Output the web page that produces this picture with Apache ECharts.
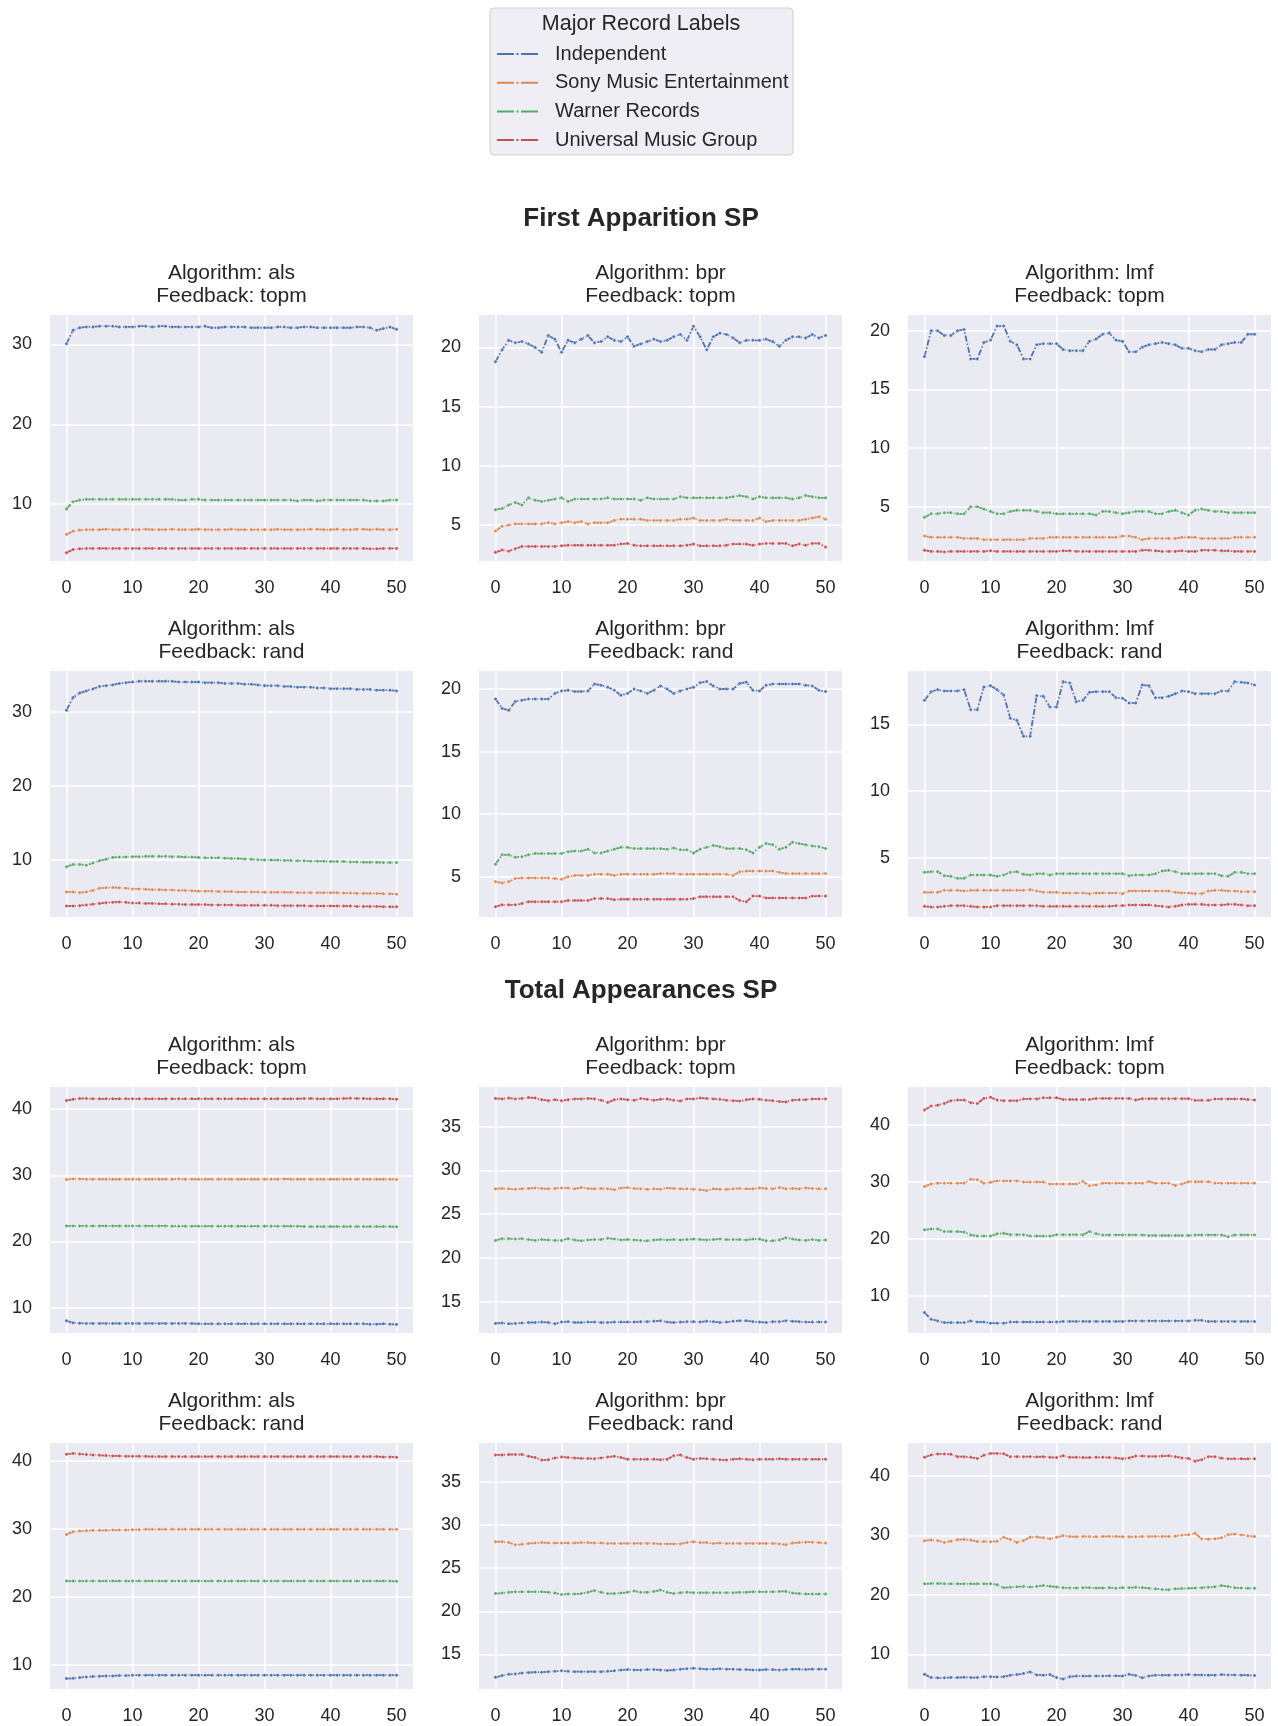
<!DOCTYPE html>
<html>
<head>
<meta charset="utf-8">
<title>Major Record Labels</title>
<script src="https://cdn.jsdelivr.net/npm/echarts@6/dist/echarts.min.js"></script>
<style>
  html, body { margin: 0; padding: 0; background: #fff; }
  #chart { width: 1278px; height: 1726px; }
</style>
</head>
<body>
<div id="chart"></div>
<script>
const labels = ['Independent', 'Sony Music Entertainment', 'Warner Records', 'Universal Music Group'];
const colors = ['#4C72B0', '#DD8452', '#55A868', '#C44E52'];
const sections = ['First Apparition SP', 'Total Appearances SP'];
const algorithms = ['als', 'bpr', 'lmf'];
const feedbacks = ['topm', 'rand'];
const steps = [...new Array(51)].map((c, i) => i);
const xTicks = [0, 10, 20, 30, 40, 50];

// y ticks per panel (row by row)
const yTicks = [
  [10, 20, 30], [5, 10, 15, 20], [5, 10, 15, 20],
  [10, 20, 30], [5, 10, 15, 20], [5, 10, 15],
  [10, 20, 30, 40], [15, 20, 25, 30, 35], [10, 20, 30, 40],
  [10, 20, 30, 40], [15, 20, 25, 30, 35], [10, 20, 30, 40]
];
const yRanges = [
  [2.87, 33.7], [1.97, 22.74], [0.38, 21.34],
  [2.32, 35.48], [1.78, 21.44], [0.55, 19.0],
  [6.16, 43.34], [11.4, 39.56], [3.47, 46.7],
  [6.47, 42.65], [11.0, 39.48], [4.18, 45.5]
];

// ---- First Apparition SP ----
const faAlsTopmInd = [30.1, 31.8, 32.1, 32.2, 32.2, 32.3, 32.3, 32.3, 32.2, 32.2,
  32.2, 32.3, 32.3, 32.2, 32.3, 32.3, 32.2, 32.2, 32.2, 32.2,
  32.2, 32.3, 32.1, 32.1, 32.2, 32.2, 32.2, 32.2, 32.1, 32.1,
  32.1, 32.1, 32.2, 32.2, 32.1, 32.1, 32.2, 32.2, 32.1, 32.1,
  32.1, 32.1, 32.1, 32.1, 32.2, 32.2, 32.1, 31.8, 32.0, 32.2,
  31.9];
const faAlsTopmSony = [6.2, 6.6, 6.75, 6.8, 6.8, 6.8, 6.85, 6.8, 6.8, 6.85,
  6.8, 6.8, 6.85, 6.8, 6.8, 6.8, 6.85, 6.8, 6.8, 6.8,
  6.85, 6.8, 6.8, 6.8, 6.8, 6.85, 6.8, 6.8, 6.8, 6.8,
  6.8, 6.8, 6.85, 6.8, 6.8, 6.8, 6.8, 6.85, 6.85, 6.8,
  6.8, 6.85, 6.8, 6.8, 6.85, 6.85, 6.8, 6.85, 6.8, 6.8,
  6.85];
const faAlsTopmWar = [9.4, 10.3, 10.5, 10.6, 10.6, 10.6, 10.6, 10.6, 10.6, 10.6,
  10.6, 10.6, 10.6, 10.6, 10.6, 10.6, 10.6, 10.5, 10.5, 10.6,
  10.6, 10.5, 10.5, 10.5, 10.5, 10.5, 10.5, 10.5, 10.5, 10.5,
  10.5, 10.5, 10.5, 10.5, 10.5, 10.4, 10.5, 10.5, 10.4, 10.5,
  10.5, 10.5, 10.5, 10.5, 10.5, 10.5, 10.4, 10.4, 10.4, 10.5,
  10.5];
const faAlsTopmUni = [3.9, 4.3, 4.4, 4.45, 4.45, 4.45, 4.45, 4.45, 4.45, 4.45,
  4.45, 4.45, 4.45, 4.45, 4.45, 4.45, 4.45, 4.45, 4.45, 4.45,
  4.45, 4.45, 4.45, 4.45, 4.45, 4.45, 4.45, 4.45, 4.45, 4.45,
  4.45, 4.45, 4.45, 4.45, 4.45, 4.45, 4.45, 4.45, 4.45, 4.45,
  4.45, 4.45, 4.45, 4.45, 4.45, 4.45, 4.4, 4.4, 4.45, 4.45,
  4.45];

const faBprTopmInd = [18.8, 19.8, 20.6, 20.4, 20.5, 20.3, 20.0, 19.6, 21.0, 20.7,
  19.6, 20.6, 20.4, 20.7, 21.0, 20.4, 20.5, 20.9, 20.6, 20.5,
  20.9, 20.1, 20.3, 20.5, 20.7, 20.5, 20.6, 20.9, 21.1, 20.6,
  21.8, 20.9, 19.8, 20.9, 21.2, 21.1, 20.8, 20.4, 20.6, 20.6,
  20.6, 20.7, 20.5, 20.1, 20.6, 20.9, 20.9, 20.8, 21.1, 20.8,
  21.0];
const faBprTopmSony = [4.5, 4.9, 5.0, 5.1, 5.1, 5.1, 5.1, 5.1, 5.2, 5.1,
  5.2, 5.3, 5.2, 5.3, 5.1, 5.2, 5.2, 5.2, 5.4, 5.5,
  5.5, 5.5, 5.5, 5.4, 5.4, 5.4, 5.4, 5.4, 5.5, 5.5,
  5.6, 5.4, 5.4, 5.4, 5.4, 5.5, 5.4, 5.4, 5.4, 5.4,
  5.6, 5.3, 5.4, 5.4, 5.4, 5.4, 5.4, 5.5, 5.6, 5.7,
  5.5];
const faBprTopmWar = [6.3, 6.4, 6.7, 6.9, 6.7, 7.3, 7.1, 7.0, 7.1, 7.2,
  7.3, 7.0, 7.2, 7.2, 7.2, 7.2, 7.2, 7.3, 7.2, 7.2,
  7.2, 7.2, 7.1, 7.3, 7.2, 7.2, 7.2, 7.2, 7.4, 7.3,
  7.3, 7.3, 7.3, 7.3, 7.3, 7.3, 7.4, 7.5, 7.4, 7.2,
  7.4, 7.3, 7.3, 7.3, 7.3, 7.2, 7.3, 7.5, 7.4, 7.3,
  7.3];
const faBprTopmUni = [2.7, 2.9, 2.8, 3.0, 3.2, 3.2, 3.2, 3.2, 3.2, 3.2,
  3.25, 3.3, 3.3, 3.3, 3.3, 3.3, 3.3, 3.3, 3.3, 3.4,
  3.45, 3.3, 3.25, 3.25, 3.25, 3.25, 3.25, 3.25, 3.25, 3.3,
  3.4, 3.25, 3.25, 3.25, 3.25, 3.3, 3.4, 3.4, 3.4, 3.3,
  3.4, 3.45, 3.45, 3.45, 3.45, 3.25, 3.4, 3.3, 3.45, 3.45,
  3.15];

const faLmfTopmInd = [17.8, 20.0, 20.0, 19.6, 19.6, 20.0, 20.1, 17.6, 17.6, 19.0,
  19.2, 20.4, 20.4, 19.1, 18.8, 17.6, 17.6, 18.8, 18.9, 18.9,
  18.9, 18.4, 18.3, 18.3, 18.3, 19.1, 19.3, 19.7, 19.8, 19.2,
  19.1, 18.2, 18.2, 18.6, 18.8, 18.9, 19.0, 18.9, 18.8, 18.5,
  18.5, 18.3, 18.2, 18.4, 18.4, 18.8, 18.9, 19.0, 19.0, 19.7,
  19.7];
const faLmfTopmSony = [2.5, 2.4, 2.4, 2.4, 2.4, 2.4, 2.3, 2.3, 2.3, 2.2,
  2.2, 2.2, 2.2, 2.2, 2.2, 2.2, 2.3, 2.3, 2.3, 2.4,
  2.4, 2.4, 2.4, 2.4, 2.4, 2.4, 2.4, 2.4, 2.4, 2.4,
  2.5, 2.5, 2.4, 2.2, 2.3, 2.3, 2.3, 2.3, 2.3, 2.4,
  2.4, 2.4, 2.3, 2.3, 2.3, 2.3, 2.3, 2.4, 2.4, 2.4,
  2.4];
const faLmfTopmWar = [4.1, 4.4, 4.4, 4.5, 4.5, 4.4, 4.4, 5.0, 5.0, 4.8,
  4.6, 4.4, 4.4, 4.6, 4.7, 4.7, 4.7, 4.6, 4.5, 4.5,
  4.4, 4.4, 4.4, 4.4, 4.4, 4.4, 4.3, 4.6, 4.6, 4.5,
  4.4, 4.5, 4.6, 4.6, 4.6, 4.4, 4.4, 4.6, 4.7, 4.5,
  4.3, 4.7, 4.8, 4.7, 4.6, 4.6, 4.5, 4.5, 4.5, 4.5,
  4.5];
const faLmfTopmUni = [1.3, 1.2, 1.2, 1.15, 1.2, 1.2, 1.2, 1.2, 1.2, 1.2,
  1.25, 1.2, 1.2, 1.2, 1.2, 1.2, 1.2, 1.2, 1.2, 1.2,
  1.2, 1.25, 1.25, 1.2, 1.2, 1.2, 1.2, 1.2, 1.2, 1.2,
  1.2, 1.2, 1.2, 1.3, 1.3, 1.25, 1.2, 1.2, 1.2, 1.25,
  1.2, 1.2, 1.3, 1.3, 1.3, 1.25, 1.25, 1.2, 1.2, 1.2,
  1.2];

const faAlsRandInd = [30.2, 31.9, 32.5, 32.8, 33.05, 33.4, 33.5, 33.6, 33.8, 33.9,
  34.0, 34.1, 34.1, 34.1, 34.1, 34.1, 34.1, 34.0, 34.0, 34.0,
  34.0, 33.9, 33.9, 33.9, 33.8, 33.8, 33.8, 33.7, 33.7, 33.6,
  33.5, 33.5, 33.5, 33.4, 33.4, 33.3, 33.3, 33.3, 33.2, 33.2,
  33.1, 33.1, 33.1, 33.1, 33.0, 33.0, 33.0, 32.9, 32.9, 32.9,
  32.8];
const faAlsRandSony = [5.7, 5.7, 5.6, 5.7, 5.9, 6.2, 6.25, 6.3, 6.25, 6.2,
  6.1, 6.1, 6.05, 6.0, 6.0, 5.95, 5.95, 5.9, 5.9, 5.85,
  5.8, 5.8, 5.8, 5.75, 5.75, 5.75, 5.7, 5.7, 5.7, 5.7,
  5.65, 5.65, 5.65, 5.65, 5.65, 5.6, 5.6, 5.6, 5.6, 5.6,
  5.6, 5.6, 5.55, 5.55, 5.5, 5.5, 5.5, 5.5, 5.45, 5.45,
  5.4];
const faAlsRandWar = [9.1, 9.4, 9.4, 9.3, 9.6, 9.9, 10.1, 10.35, 10.4, 10.4,
  10.45, 10.45, 10.5, 10.5, 10.5, 10.5, 10.45, 10.45, 10.4, 10.4,
  10.35, 10.3, 10.3, 10.3, 10.25, 10.2, 10.2, 10.15, 10.1, 10.05,
  10.0, 10.0, 10.0, 9.95, 9.95, 9.9, 9.9, 9.85, 9.85, 9.85,
  9.8, 9.8, 9.8, 9.75, 9.75, 9.7, 9.7, 9.7, 9.65, 9.65,
  9.65];
const faAlsRandUni = [3.8, 3.8, 3.85, 3.95, 4.05, 4.15, 4.25, 4.3, 4.35, 4.3,
  4.2, 4.2, 4.15, 4.15, 4.1, 4.1, 4.05, 4.05, 4.0, 4.0,
  4.0, 4.0, 3.95, 3.95, 3.95, 3.95, 3.9, 3.9, 3.9, 3.9,
  3.9, 3.9, 3.85, 3.85, 3.85, 3.85, 3.85, 3.8, 3.8, 3.8,
  3.8, 3.8, 3.8, 3.8, 3.75, 3.75, 3.75, 3.75, 3.7, 3.7,
  3.7];

const faBprRandInd = [19.2, 18.45, 18.3, 19.0, 19.1, 19.2, 19.2, 19.2, 19.2, 19.65,
  19.85, 19.9, 19.8, 19.8, 19.85, 20.4, 20.3, 20.15, 19.9, 19.5,
  19.65, 20.0, 19.85, 19.65, 19.9, 20.25, 20.0, 19.65, 19.85, 20.0,
  20.15, 20.5, 20.6, 20.25, 20.0, 20.0, 20.0, 20.45, 20.55, 19.9,
  19.85, 20.3, 20.4, 20.4, 20.4, 20.4, 20.4, 20.3, 20.25, 19.9,
  19.8];
const faBprRandSony = [4.6, 4.5, 4.6, 4.85, 4.9, 4.9, 4.9, 4.9, 4.9, 4.85,
  4.8, 5.0, 5.1, 5.1, 5.1, 5.2, 5.2, 5.2, 5.1, 5.2,
  5.2, 5.2, 5.2, 5.2, 5.2, 5.25, 5.25, 5.25, 5.2, 5.2,
  5.2, 5.2, 5.2, 5.2, 5.2, 5.2, 5.1, 5.4, 5.45, 5.45,
  5.45, 5.45, 5.45, 5.35, 5.25, 5.25, 5.25, 5.25, 5.25, 5.25,
  5.25];
const faBprRandWar = [6.0, 6.75, 6.75, 6.55, 6.6, 6.75, 6.85, 6.85, 6.85, 6.85,
  6.85, 7.0, 7.05, 7.05, 7.2, 6.9, 6.9, 7.05, 7.2, 7.35,
  7.35, 7.25, 7.25, 7.25, 7.25, 7.25, 7.2, 7.3, 7.15, 7.15,
  6.9, 7.2, 7.35, 7.5, 7.4, 7.25, 7.25, 7.25, 7.15, 6.9,
  7.35, 7.65, 7.55, 7.2, 7.35, 7.75, 7.65, 7.55, 7.45, 7.4,
  7.25];
const faBprRandUni = [2.6, 2.75, 2.75, 2.75, 2.85, 3.0, 3.0, 3.0, 3.0, 3.0,
  3.0, 3.1, 3.1, 3.1, 3.1, 3.25, 3.25, 3.25, 3.15, 3.2,
  3.2, 3.2, 3.2, 3.2, 3.2, 3.2, 3.2, 3.2, 3.2, 3.2,
  3.25, 3.4, 3.4, 3.4, 3.4, 3.4, 3.4, 3.1, 3.0, 3.45,
  3.45, 3.3, 3.3, 3.3, 3.3, 3.3, 3.3, 3.3, 3.45, 3.45,
  3.45];

const faLmfRandInd = [16.8, 17.45, 17.6, 17.5, 17.5, 17.5, 17.6, 16.1, 16.1, 17.8,
  17.9, 17.6, 17.2, 15.45, 15.3, 14.1, 14.1, 17.15, 17.1, 16.3,
  16.3, 18.2, 18.1, 16.7, 16.8, 17.4, 17.45, 17.45, 17.45, 17.0,
  16.95, 16.6, 16.6, 17.95, 17.9, 17.0, 17.0, 17.1, 17.3, 17.5,
  17.45, 17.3, 17.3, 17.3, 17.3, 17.5, 17.5, 18.2, 18.15, 18.1,
  17.95];
const faLmfRandSony = [2.4, 2.4, 2.4, 2.55, 2.55, 2.55, 2.5, 2.55, 2.55, 2.55,
  2.55, 2.55, 2.55, 2.55, 2.55, 2.55, 2.6, 2.5, 2.4, 2.4,
  2.4, 2.35, 2.35, 2.35, 2.35, 2.3, 2.35, 2.35, 2.35, 2.35,
  2.3, 2.5, 2.5, 2.5, 2.5, 2.5, 2.5, 2.5, 2.4, 2.35,
  2.35, 2.3, 2.3, 2.5, 2.55, 2.55, 2.5, 2.5, 2.45, 2.45,
  2.45];
const faLmfRandWar = [3.9, 3.95, 3.95, 3.65, 3.6, 3.45, 3.45, 3.7, 3.7, 3.7,
  3.7, 3.6, 3.7, 3.9, 3.95, 3.75, 3.7, 3.8, 3.8, 3.7,
  3.8, 3.8, 3.8, 3.8, 3.8, 3.8, 3.8, 3.8, 3.8, 3.8,
  3.8, 3.65, 3.7, 3.7, 3.7, 3.8, 4.0, 4.05, 3.95, 3.8,
  3.8, 3.8, 3.8, 3.8, 3.8, 3.65, 3.6, 3.9, 3.9, 3.8,
  3.8];
const faLmfRandUni = [1.35, 1.3, 1.3, 1.35, 1.4, 1.4, 1.4, 1.35, 1.3, 1.3,
  1.3, 1.4, 1.4, 1.4, 1.4, 1.4, 1.4, 1.4, 1.35, 1.35,
  1.35, 1.35, 1.35, 1.35, 1.35, 1.35, 1.35, 1.35, 1.35, 1.4,
  1.4, 1.45, 1.45, 1.45, 1.45, 1.4, 1.35, 1.3, 1.35, 1.45,
  1.5, 1.5, 1.5, 1.45, 1.45, 1.45, 1.5, 1.5, 1.45, 1.4,
  1.4];

// ---- Total Appearances SP ----
const taAlsTopmInd = [8.0, 7.7, 7.65, 7.6, 7.6, 7.6, 7.6, 7.6, 7.6, 7.6,
  7.6, 7.6, 7.6, 7.6, 7.6, 7.6, 7.6, 7.6, 7.6, 7.6,
  7.55, 7.55, 7.55, 7.55, 7.55, 7.55, 7.55, 7.55, 7.55, 7.55,
  7.55, 7.55, 7.55, 7.55, 7.55, 7.55, 7.55, 7.55, 7.55, 7.55,
  7.55, 7.55, 7.55, 7.55, 7.55, 7.55, 7.5, 7.5, 7.55, 7.5,
  7.45];
const taAlsTopmSony = [29.35, 29.45, 29.45, 29.4, 29.4, 29.4, 29.4, 29.4, 29.4, 29.4,
  29.4, 29.4, 29.4, 29.4, 29.4, 29.4, 29.4, 29.45, 29.4, 29.4,
  29.4, 29.4, 29.4, 29.4, 29.4, 29.4, 29.4, 29.4, 29.4, 29.4,
  29.4, 29.4, 29.4, 29.45, 29.4, 29.4, 29.4, 29.4, 29.4, 29.4,
  29.4, 29.4, 29.4, 29.4, 29.4, 29.4, 29.4, 29.4, 29.4, 29.4,
  29.35];
const taAlsTopmWar = [22.35, 22.35, 22.35, 22.35, 22.35, 22.35, 22.35, 22.35, 22.35, 22.35,
  22.35, 22.35, 22.35, 22.35, 22.35, 22.35, 22.3, 22.3, 22.3, 22.3,
  22.3, 22.3, 22.3, 22.3, 22.3, 22.3, 22.3, 22.3, 22.3, 22.3,
  22.3, 22.3, 22.3, 22.3, 22.3, 22.3, 22.25, 22.25, 22.25, 22.25,
  22.25, 22.25, 22.25, 22.25, 22.25, 22.25, 22.25, 22.25, 22.25, 22.25,
  22.2];
const taAlsTopmUni = [41.3, 41.5, 41.6, 41.6, 41.55, 41.55, 41.55, 41.55, 41.55, 41.55,
  41.55, 41.55, 41.55, 41.55, 41.55, 41.55, 41.55, 41.55, 41.55, 41.55,
  41.55, 41.55, 41.55, 41.55, 41.55, 41.55, 41.55, 41.55, 41.55, 41.55,
  41.55, 41.55, 41.55, 41.55, 41.55, 41.55, 41.6, 41.6, 41.55, 41.55,
  41.55, 41.55, 41.6, 41.65, 41.6, 41.6, 41.55, 41.55, 41.55, 41.55,
  41.5];

const taBprTopmInd = [12.5, 12.55, 12.45, 12.5, 12.55, 12.6, 12.6, 12.65, 12.6, 12.45,
  12.65, 12.7, 12.6, 12.6, 12.65, 12.65, 12.6, 12.6, 12.65, 12.65,
  12.65, 12.65, 12.7, 12.7, 12.75, 12.8, 12.65, 12.6, 12.65, 12.7,
  12.7, 12.65, 12.75, 12.7, 12.6, 12.65, 12.75, 12.8, 12.8, 12.7,
  12.65, 12.6, 12.7, 12.7, 12.8, 12.75, 12.7, 12.65, 12.65, 12.65,
  12.65];
const taBprTopmSony = [27.9, 27.95, 27.9, 27.85, 27.9, 27.95, 28.0, 27.95, 27.9, 27.95,
  28.0, 28.0, 27.9, 28.05, 27.95, 27.9, 27.95, 27.9, 27.8, 28.0,
  28.05, 27.95, 27.9, 27.85, 27.9, 27.85, 28.0, 27.95, 27.9, 27.9,
  27.85, 27.8, 27.7, 27.9, 27.85, 27.85, 27.9, 27.95, 27.9, 27.9,
  28.0, 27.95, 27.9, 28.05, 27.9, 27.95, 27.9, 28.0, 27.95, 27.9,
  27.9];
const taBprTopmWar = [22.0, 22.2, 22.2, 22.15, 22.2, 22.1, 22.0, 22.1, 22.05, 22.0,
  22.0, 22.2, 22.05, 21.95, 22.05, 22.1, 22.1, 22.25, 22.15, 22.05,
  22.1, 22.05, 22.0, 21.95, 22.05, 22.1, 22.05, 22.1, 22.05, 22.1,
  22.15, 22.1, 22.05, 22.1, 22.15, 22.1, 22.1, 22.1, 22.05, 22.15,
  22.15, 21.95, 21.95, 22.05, 22.3, 22.15, 22.05, 22.0, 22.1, 22.0,
  22.05];
const taBprTopmUni = [38.25, 38.2, 38.3, 38.2, 38.25, 38.35, 38.3, 38.1, 38.0, 38.1,
  38.0, 38.1, 38.2, 38.2, 38.25, 38.2, 38.05, 37.8, 38.1, 38.2,
  38.1, 38.05, 38.25, 38.15, 38.05, 38.15, 38.2, 38.05, 37.95, 38.2,
  38.2, 38.3, 38.25, 38.2, 38.15, 38.05, 38.0, 37.95, 38.1, 38.2,
  38.15, 38.05, 38.0, 37.9, 37.85, 38.05, 38.1, 38.1, 38.2, 38.2,
  38.2];

const taLmfTopmInd = [7.06, 5.9, 5.6, 5.3, 5.3, 5.3, 5.3, 5.6, 5.4, 5.4,
  5.2, 5.2, 5.2, 5.4, 5.4, 5.4, 5.4, 5.4, 5.4, 5.4,
  5.4, 5.5, 5.5, 5.5, 5.5, 5.5, 5.5, 5.5, 5.5, 5.5,
  5.5, 5.6, 5.6, 5.6, 5.6, 5.6, 5.6, 5.6, 5.6, 5.6,
  5.6, 5.7, 5.7, 5.5, 5.5, 5.5, 5.5, 5.5, 5.5, 5.5,
  5.5];
const taLmfTopmSony = [29.2, 29.65, 29.8, 29.8, 29.8, 29.8, 29.8, 30.5, 30.4, 29.8,
  29.95, 30.2, 30.2, 30.2, 30.2, 30.0, 30.0, 30.0, 30.0, 29.65,
  29.65, 29.65, 29.65, 29.65, 30.1, 29.35, 29.5, 29.8, 29.8, 29.8,
  29.8, 29.8, 29.8, 29.8, 30.1, 29.8, 29.8, 29.8, 29.4, 29.65,
  30.05, 30.05, 30.05, 30.05, 29.8, 29.8, 29.8, 29.8, 29.8, 29.8,
  29.8];
const taLmfTopmWar = [21.6, 21.75, 21.75, 21.3, 21.3, 21.3, 21.2, 20.7, 20.5, 20.5,
  20.5, 20.9, 21.0, 20.75, 20.75, 20.75, 20.5, 20.5, 20.5, 20.5,
  20.75, 20.75, 20.75, 20.75, 20.75, 21.3, 20.9, 20.7, 20.7, 20.7,
  20.7, 20.7, 20.7, 20.7, 20.6, 20.6, 20.6, 20.6, 20.6, 20.6,
  20.6, 20.7, 20.7, 20.7, 20.7, 20.7, 20.4, 20.7, 20.7, 20.7,
  20.7];
const taLmfTopmUni = [42.65, 43.35, 43.5, 43.8, 44.3, 44.4, 44.4, 43.95, 43.8, 44.7,
  44.9, 44.4, 44.3, 44.3, 44.3, 44.6, 44.6, 44.6, 44.8, 44.8,
  44.8, 44.5, 44.5, 44.5, 44.5, 44.5, 44.7, 44.7, 44.7, 44.7,
  44.7, 44.7, 44.4, 44.65, 44.65, 44.65, 44.65, 44.65, 44.65, 44.65,
  44.65, 44.35, 44.35, 44.35, 44.6, 44.6, 44.6, 44.6, 44.6, 44.5,
  44.4];

const taAlsRandInd = [8.0, 8.05, 8.15, 8.25, 8.3, 8.35, 8.4, 8.4, 8.45, 8.45,
  8.5, 8.5, 8.5, 8.5, 8.5, 8.5, 8.5, 8.5, 8.5, 8.5,
  8.5, 8.5, 8.5, 8.5, 8.5, 8.5, 8.5, 8.5, 8.5, 8.5,
  8.5, 8.5, 8.5, 8.5, 8.5, 8.5, 8.5, 8.5, 8.5, 8.5,
  8.5, 8.5, 8.5, 8.5, 8.5, 8.5, 8.5, 8.5, 8.5, 8.5,
  8.5];
const taAlsRandSony = [29.2, 29.6, 29.7, 29.75, 29.8, 29.8, 29.8, 29.85, 29.85, 29.85,
  29.9, 29.9, 29.95, 29.95, 29.95, 29.95, 29.95, 29.95, 29.95, 29.95,
  29.95, 29.95, 29.95, 29.95, 29.95, 29.95, 29.95, 29.95, 29.95, 29.95,
  29.95, 29.95, 29.95, 29.95, 29.95, 29.95, 29.95, 29.95, 29.95, 29.95,
  29.95, 29.95, 29.95, 29.95, 29.95, 29.95, 29.95, 29.95, 29.95, 29.95,
  29.95];
const taAlsRandWar = [22.35, 22.35, 22.35, 22.35, 22.35, 22.35, 22.35, 22.35, 22.35, 22.35,
  22.35, 22.35, 22.35, 22.35, 22.35, 22.35, 22.35, 22.35, 22.35, 22.35,
  22.35, 22.35, 22.35, 22.35, 22.35, 22.35, 22.35, 22.35, 22.35, 22.35,
  22.35, 22.35, 22.35, 22.35, 22.35, 22.35, 22.35, 22.35, 22.35, 22.35,
  22.35, 22.35, 22.35, 22.35, 22.35, 22.35, 22.35, 22.35, 22.35, 22.35,
  22.3];
const taAlsRandUni = [41.0, 41.1, 41.05, 40.95, 40.9, 40.85, 40.8, 40.75, 40.75, 40.7,
  40.7, 40.7, 40.7, 40.65, 40.65, 40.65, 40.65, 40.65, 40.65, 40.65,
  40.65, 40.65, 40.65, 40.65, 40.65, 40.65, 40.65, 40.65, 40.65, 40.65,
  40.65, 40.65, 40.65, 40.65, 40.65, 40.65, 40.65, 40.65, 40.65, 40.65,
  40.65, 40.65, 40.65, 40.65, 40.65, 40.65, 40.65, 40.65, 40.6, 40.6,
  40.55];

const taBprRandInd = [12.35, 12.55, 12.7, 12.75, 12.85, 12.9, 12.95, 12.95, 13.0, 13.05,
  13.1, 13.05, 13.0, 13.0, 13.0, 13.0, 13.0, 13.05, 13.1, 13.2,
  13.25, 13.2, 13.2, 13.25, 13.25, 13.2, 13.15, 13.2, 13.3, 13.35,
  13.4, 13.35, 13.3, 13.3, 13.35, 13.3, 13.3, 13.25, 13.25, 13.2,
  13.2, 13.25, 13.25, 13.2, 13.25, 13.3, 13.3, 13.25, 13.3, 13.3,
  13.3];
const taBprRandSony = [28.05, 28.05, 27.95, 27.7, 27.75, 27.85, 27.9, 27.95, 27.9, 27.9,
  27.9, 27.9, 27.9, 27.95, 27.95, 27.9, 27.9, 27.85, 27.85, 27.85,
  27.85, 27.85, 27.85, 27.85, 27.85, 27.8, 27.8, 27.8, 27.8, 27.95,
  28.05, 27.95, 27.95, 27.85, 27.9, 27.85, 27.85, 27.85, 27.85, 27.85,
  27.85, 27.85, 27.85, 27.8, 27.7, 27.9, 27.95, 28.0, 28.0, 27.95,
  27.9];
const taBprRandWar = [22.05, 22.1, 22.2, 22.25, 22.25, 22.25, 22.25, 22.25, 22.2, 22.1,
  21.95, 22.0, 22.0, 22.05, 22.2, 22.4, 22.2, 22.05, 22.05, 22.1,
  22.2, 22.35, 22.2, 22.2, 22.3, 22.45, 22.2, 22.05, 22.15, 22.2,
  22.15, 22.15, 22.15, 22.15, 22.15, 22.15, 22.15, 22.2, 22.2, 22.25,
  22.25, 22.25, 22.25, 22.3, 22.3, 22.1, 22.05, 22.0, 22.0, 22.0,
  22.0];
const taBprRandUni = [38.1, 38.1, 38.15, 38.15, 38.15, 37.95, 37.8, 37.5, 37.55, 37.75,
  37.85, 37.8, 37.75, 37.7, 37.7, 37.65, 37.75, 37.85, 37.95, 37.8,
  37.6, 37.6, 37.6, 37.6, 37.6, 37.55, 37.6, 38.0, 38.1, 37.8,
  37.6, 37.7, 37.65, 37.6, 37.55, 37.5, 37.6, 37.65, 37.6, 37.55,
  37.6, 37.6, 37.6, 37.65, 37.6, 37.6, 37.6, 37.6, 37.6, 37.6,
  37.6];

const taLmfRandInd = [6.64, 6.1, 6.05, 6.05, 6.1, 6.1, 6.15, 6.1, 6.1, 6.25,
  6.25, 6.2, 6.25, 6.5, 6.6, 6.8, 7.05, 6.55, 6.5, 6.6,
  6.1, 5.85, 6.25, 6.35, 6.35, 6.35, 6.35, 6.35, 6.4, 6.4,
  6.35, 6.65, 6.45, 6.05, 6.35, 6.5, 6.5, 6.5, 6.55, 6.55,
  6.6, 6.55, 6.55, 6.5, 6.5, 6.6, 6.55, 6.55, 6.5, 6.5,
  6.45];
const taLmfRandSony = [29.1, 29.2, 29.1, 28.8, 29.0, 29.27, 29.3, 29.2, 28.95, 28.95,
  28.9, 29.0, 29.65, 29.3, 28.8, 29.1, 29.66, 29.7, 29.6, 29.4,
  29.66, 29.94, 29.8, 29.75, 29.8, 29.8, 29.75, 29.8, 29.8, 29.8,
  29.75, 29.75, 29.75, 29.8, 29.8, 29.8, 29.8, 29.8, 29.85, 30.0,
  30.1, 30.34, 29.4, 29.35, 29.4, 29.6, 30.1, 30.2, 30.06, 29.9,
  29.78];
const taLmfRandWar = [21.85, 21.9, 21.9, 21.85, 21.85, 21.85, 21.85, 21.85, 21.85, 21.85,
  21.85, 21.7, 21.2, 21.25, 21.35, 21.4, 21.3, 21.4, 21.55, 21.45,
  21.3, 21.2, 21.15, 21.15, 21.2, 21.2, 21.15, 21.15, 21.2, 21.1,
  21.2, 21.2, 21.25, 21.2, 21.1, 21.0, 20.9, 20.85, 21.0, 21.05,
  21.1, 21.15, 21.2, 21.25, 21.35, 21.55, 21.4, 21.2, 21.15, 21.1,
  21.1];
const taLmfRandUni = [43.1, 43.5, 43.65, 43.65, 43.6, 43.2, 43.2, 43.1, 42.9, 43.45,
  43.75, 43.75, 43.7, 43.2, 43.2, 43.2, 43.2, 43.15, 43.2, 43.1,
  43.05, 43.35, 43.1, 43.1, 43.05, 43.05, 43.1, 43.1, 43.05, 43.0,
  42.85, 43.0, 43.3, 43.3, 43.25, 43.25, 43.3, 43.35, 43.2, 43.0,
  42.9, 42.45, 42.7, 43.2, 43.2, 42.95, 42.85, 42.85, 42.85, 42.85,
  42.85];

// panels in reading order: section, feedback row, algorithm column
const panelLines = [
  [faAlsTopmInd, faAlsTopmSony, faAlsTopmWar, faAlsTopmUni],
  [faBprTopmInd, faBprTopmSony, faBprTopmWar, faBprTopmUni],
  [faLmfTopmInd, faLmfTopmSony, faLmfTopmWar, faLmfTopmUni],
  [faAlsRandInd, faAlsRandSony, faAlsRandWar, faAlsRandUni],
  [faBprRandInd, faBprRandSony, faBprRandWar, faBprRandUni],
  [faLmfRandInd, faLmfRandSony, faLmfRandWar, faLmfRandUni],
  [taAlsTopmInd, taAlsTopmSony, taAlsTopmWar, taAlsTopmUni],
  [taBprTopmInd, taBprTopmSony, taBprTopmWar, taBprTopmUni],
  [taLmfTopmInd, taLmfTopmSony, taLmfTopmWar, taLmfTopmUni],
  [taAlsRandInd, taAlsRandSony, taAlsRandWar, taAlsRandUni],
  [taBprRandInd, taBprRandSony, taBprRandWar, taBprRandUni],
  [taLmfRandInd, taLmfRandSony, taLmfRandWar, taLmfRandUni]
];

const font = '"Liberation Sans", Arial, sans-serif';
const textColor = '#262626';
const gridLefts = [50, 479, 908];
const gridTops = [315, 671, 1087, 1443];
const gridW = 363, gridH = 246;

let chart = echarts.init(document.getElementById('chart'), null, { renderer: 'canvas' });

let grids = [], xAxes = [], yAxes = [], series = [];
let graphics = [
  { type: 'rect', shape: { x: 490, y: 8, width: 303, height: 147, r: 4 },
    style: { fill: '#EEEEF4', stroke: '#CFCFD6', lineWidth: 1 }, z: 1 },
  { type: 'text', x: 641, y: 24, z: 10,
    style: { text: 'Major Record Labels', fontSize: 21.5, fontFamily: font, fill: textColor, align: 'center', verticalAlign: 'middle' } },
  { type: 'text', x: 641, y: 219, z: 10,
    style: { text: sections[0], fontSize: 26, fontWeight: 'bold', fontFamily: font, fill: textColor, align: 'center', verticalAlign: 'middle' } },
  { type: 'text', x: 641, y: 991, z: 10,
    style: { text: sections[1], fontSize: 26, fontWeight: 'bold', fontFamily: font, fill: textColor, align: 'center', verticalAlign: 'middle' } }
];

panelLines.forEach((lines, i) => {
  const row = Math.floor(i / 3), col = i % 3;
  const fb = feedbacks[row % 2];
  grids.push({
    left: gridLefts[col], top: gridTops[row], width: gridW, height: gridH,
    show: true, backgroundColor: '#EAEAF2', borderWidth: 0,
    containLabel: false, outerBoundsMode: 'none'
  });
  xAxes.push({
    type: 'value', gridIndex: i, min: -2.5, max: 52.5,
    axisLine: { show: false },
    axisTick: { show: false, customValues: xTicks },
    axisLabel: { customValues: xTicks, fontSize: 18, fontFamily: font, color: textColor, margin: 18 },
    splitLine: { show: true, lineStyle: { color: '#ffffff', width: 1.5 } }
  });
  yAxes.push({
    type: 'value', gridIndex: i, min: yRanges[i][0], max: yRanges[i][1],
    axisLine: { show: false },
    axisTick: { show: false, customValues: yTicks[i] },
    axisLabel: { customValues: yTicks[i], fontSize: 18, fontFamily: font, color: textColor, margin: 18 },
    splitLine: { show: true, lineStyle: { color: '#ffffff', width: 1.5 } }
  });
  lines.forEach((vals, k) => {
    series.push({
      type: 'line', name: labels[k], xAxisIndex: i, yAxisIndex: i,
      data: steps.map((s, j) => [s, vals[j]]),
      symbol: 'circle', symbolSize: 3.5, showSymbol: true,
      itemStyle: { color: colors[k], borderColor: '#ffffff', borderWidth: 0.5 },
      lineStyle: { color: colors[k], width: 1.8, type: [6, 2, 1.5, 2] },
      emphasis: { disabled: true },
      silent: true
    });
  });
  graphics.push({
    type: 'text', x: gridLefts[col] + gridW / 2, y: gridTops[row] - 30, z: 10,
    style: {
      text: 'Algorithm: ' + algorithms[col] + '\nFeedback: ' + fb,
      fontSize: 21, lineHeight: 23, fontFamily: font, fill: textColor,
      align: 'center', verticalAlign: 'middle'
    }
  });
});

let options = {
  animation: false,
  backgroundColor: '#ffffff',
  color: colors,
  textStyle: { fontFamily: font },
  grid: grids,
  xAxis: xAxes,
  yAxis: yAxes,
  legend: {
    data: labels, orient: 'vertical', left: 492, top: 39,
    itemWidth: 41, itemHeight: 3, itemGap: 8.7, selectedMode: false,
    icon: 'path://M0,0h17v2h-17zM19.5,0h2v2h-2zM24,0h17v2h-17z',
    itemStyle: { borderWidth: 0 },
    textStyle: { fontSize: 20, lineHeight: 20, color: textColor, fontFamily: font, padding: [0, 0, 0, 12] }
  },
  graphic: graphics,
  series: series
};
options && chart.setOption(options);
</script>
</body>
</html>
